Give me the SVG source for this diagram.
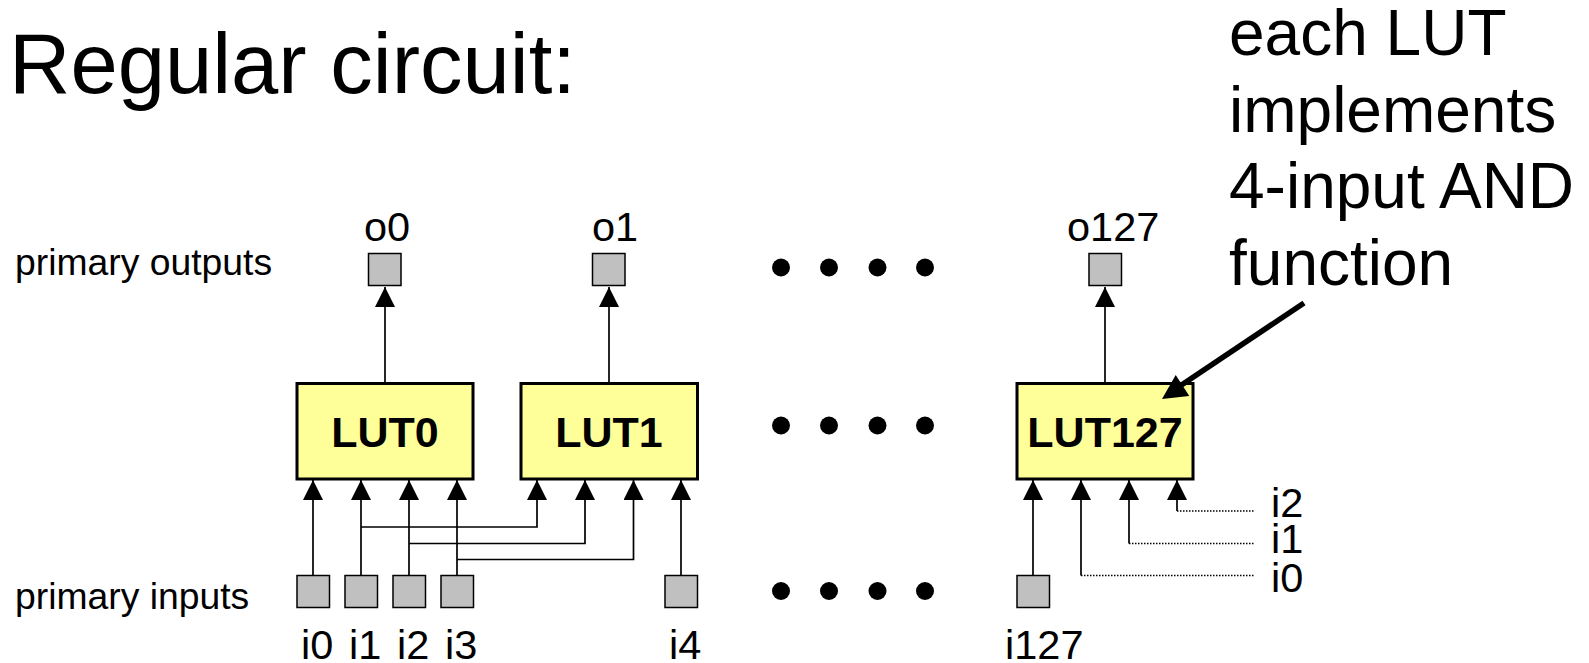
<svg xmlns="http://www.w3.org/2000/svg" width="1589" height="663" viewBox="0 0 1589 663">
<style>
text{font-family:"Liberation Sans",Arial,sans-serif;fill:#000}
.lut{fill:#ffff99;stroke:#000;stroke-width:3}
.pad{fill:#c0c0c0;stroke:#000;stroke-width:1.5}
.lbl{font-size:41.500px}
.side{font-size:37.300px}
.big{font-size:64px}
.lt{font-size:43px;font-weight:bold;text-anchor:middle}
.w{fill:none;stroke:#000;stroke-width:1.7}
.d{fill:none;stroke:#000;stroke-width:1.5;stroke-dasharray:1.5 1.5}
.a{fill:none;stroke:#000;stroke-width:1.7;marker-end:url(#ah)}
</style>
<defs>
<marker id="ah" markerUnits="userSpaceOnUse" markerWidth="22" markerHeight="22" refX="20" refY="10" orient="auto"><path d="M0 0L20 10L0 20Z" fill="#000"/></marker>
</defs>
<rect width="1589" height="663" fill="#fff"/>
<text id="title" x="9" y="93" font-size="85">Regular circuit:</text>
<g id="note" class="big"><text x="1229" y="55">each LUT</text><text x="1229" y="132">implements</text><text x="1229" y="208">4-input AND</text><text x="1229" y="285">function</text></g>
<text id="label-outputs" class="side" x="15" y="275">primary outputs</text>
<text id="label-inputs" class="side" x="15" y="609">primary inputs</text>
<g id="connectors">
<path class="a" d="M385 383V287"/><path class="a" d="M609 383V287"/><path class="a" d="M1105 383V287"/>
<path class="a" d="M313 575V480"/><path class="a" d="M361 575V480"/><path class="a" d="M409 575V480"/><path class="a" d="M457 575V480"/><path class="a" d="M681 575V480"/><path class="a" d="M1033 575V480"/>
<path class="a" d="M361 527H537V480"/><path class="a" d="M409 543.500H585V480"/><path class="a" d="M457 559.500H633.500V480"/>
<path class="a" d="M1081 575.500V480"/><path class="a" d="M1129 543.500V480"/><path class="a" d="M1177 511V480"/>
<path class="d" d="M1081 575.500H1255"/><path class="d" d="M1129 543.500H1255"/><path class="d" d="M1177 511H1255"/>
</g>
<g id="lut0"><rect class="lut" x="297" y="383.500" width="176" height="95.500"/><text class="lt" x="385" y="446.500">LUT0</text></g>
<g id="lut1"><rect class="lut" x="521" y="383.500" width="176.500" height="95.500"/><text class="lt" x="609" y="446.500">LUT1</text></g>
<g id="lut127"><rect class="lut" x="1017" y="383.500" width="176" height="95.500"/><text class="lt" x="1105" y="446.500">LUT127</text></g>
<g id="callout"><path d="M1304 303L1180 386" stroke="#000" stroke-width="5.500" fill="none"/><path d="M1162 399L1175.700 375L1189.300 396Z" fill="#000"/></g>
<g id="o0"><rect class="pad" x="368.500" y="253.500" width="32.500" height="32"/><text class="lbl" x="364" y="240.500">o0</text></g>
<g id="o1"><rect class="pad" x="592.500" y="253.500" width="32.500" height="32"/><text class="lbl" x="592" y="240.500">o1</text></g>
<g id="o127"><rect class="pad" x="1089" y="253.500" width="32.500" height="32"/><text class="lbl" x="1067" y="240.500">o127</text></g>
<g id="i0"><rect class="pad" x="297" y="575.500" width="32.500" height="32"/><text class="lbl" x="301" y="658.500">i0</text></g>
<g id="i1"><rect class="pad" x="345" y="575.500" width="32.500" height="32"/><text class="lbl" x="349" y="658.500">i1</text></g>
<g id="i2"><rect class="pad" x="393" y="575.500" width="32.500" height="32"/><text class="lbl" x="397" y="658.500">i2</text></g>
<g id="i3"><rect class="pad" x="441" y="575.500" width="32.500" height="32"/><text class="lbl" x="445" y="658.500">i3</text></g>
<g id="i4"><rect class="pad" x="665" y="575.500" width="32.500" height="32"/><text class="lbl" x="669" y="658.500">i4</text></g>
<g id="i127"><rect class="pad" x="1017" y="575.500" width="32.500" height="32"/><text class="lbl" x="1005" y="658.500">i127</text></g>
<g id="side-labels" class="lbl"><text x="1271" y="516.500">i2</text><text x="1271" y="553">i1</text><text x="1271" y="591.500">i0</text></g>
<g id="ellipsis-top"><circle cx="781" cy="267.500" r="9"/><circle cx="829" cy="267.500" r="9"/><circle cx="877.500" cy="267.500" r="9"/><circle cx="925" cy="267.500" r="9"/></g>
<g id="ellipsis-mid"><circle cx="781" cy="425.500" r="9"/><circle cx="829" cy="425.500" r="9"/><circle cx="877.500" cy="425.500" r="9"/><circle cx="925" cy="425.500" r="9"/></g>
<g id="ellipsis-bot"><circle cx="781" cy="591" r="9"/><circle cx="829" cy="591" r="9"/><circle cx="877.500" cy="591" r="9"/><circle cx="925" cy="591" r="9"/></g>
</svg>
